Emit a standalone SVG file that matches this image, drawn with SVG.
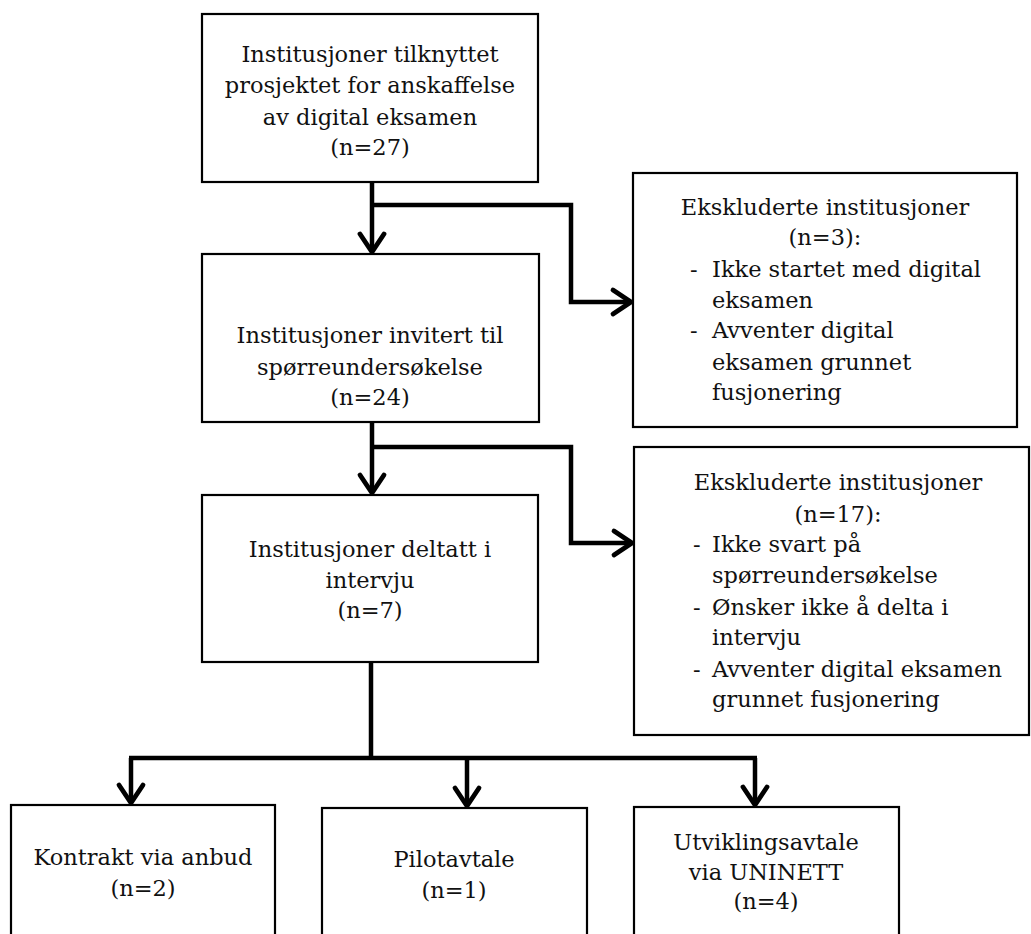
<svg xmlns="http://www.w3.org/2000/svg" width="1031" height="934" viewBox="0 0 1031 934">
  <style>
    .box { fill: #ffffff; stroke: #000000; stroke-width: 2.2; }
    .t { font-family: "DejaVu Serif", "Liberation Serif", serif; font-size: 22.5px; fill: #111111; }
    .c { text-anchor: middle; }
    .wire { fill: none; stroke: #000000; stroke-width: 4.5; stroke-linejoin: miter; }
  </style>
  <defs>
    <!-- open chevron arrowhead, tip at the path end -->
    <marker id="chev" markerUnits="userSpaceOnUse" markerWidth="34" markerHeight="34" viewBox="-24 -17 28 34" refX="0" refY="0" orient="auto">
      <path d="M-18,-12 L0,0 L-18,12" fill="none" stroke="#000000" stroke-width="4.8" stroke-linecap="round" stroke-linejoin="miter"/>
    </marker>
  </defs>

  <rect width="1031" height="934" fill="#ffffff"/>

  <!-- connectors -->
  <g id="connectors">
    <path class="wire" d="M372,182 V252" marker-end="url(#chev)"/>
    <path class="wire" d="M372,205 H571 V302 H631" marker-end="url(#chev)"/>
    <path class="wire" d="M372,422 V493" marker-end="url(#chev)"/>
    <path class="wire" d="M372,447 H571 V543 H632" marker-end="url(#chev)"/>
    <path class="wire" d="M371,662 V758"/>
    <path class="wire" d="M129,758 H757"/>
    <path class="wire" d="M131,758 V803" marker-end="url(#chev)"/>
    <path class="wire" d="M467,758 V806" marker-end="url(#chev)"/>
    <path class="wire" d="M755,758 V805" marker-end="url(#chev)"/>
  </g>

  <g id="node-institusjoner">
    <rect class="box" x="202" y="14" width="336" height="168"/>
    <text class="t c" x="370" y="62">Institusjoner tilknyttet</text>
    <text class="t c" x="370" y="93">prosjektet for anskaffelse</text>
    <text class="t c" x="370" y="125">av digital eksamen</text>
    <text class="t c" x="370" y="155">(n=27)</text>
  </g>

  <g id="node-invitert">
    <rect class="box" x="202" y="254" width="337" height="168"/>
    <text class="t c" x="370" y="343">Institusjoner invitert til</text>
    <text class="t c" x="370" y="375">spørreundersøkelse</text>
    <text class="t c" x="370" y="405">(n=24)</text>
  </g>

  <g id="node-deltatt">
    <rect class="box" x="202" y="495" width="336" height="167"/>
    <text class="t c" x="370" y="557">Institusjoner deltatt i</text>
    <text class="t c" x="370" y="588">intervju</text>
    <text class="t c" x="370" y="618">(n=7)</text>
  </g>

  <g id="node-ekskludert-1">
    <rect class="box" x="633" y="173" width="384" height="254"/>
    <text class="t c" x="825" y="215">Ekskluderte institusjoner</text>
    <text class="t c" x="825" y="245">(n=3):</text>
    <text class="t" x="690" y="277">-</text>
    <text class="t" x="712" y="277">Ikke startet med digital</text>
    <text class="t" x="712" y="308">eksamen</text>
    <text class="t" x="690" y="338">-</text>
    <text class="t" x="712" y="338">Avventer digital</text>
    <text class="t" x="712" y="370">eksamen grunnet</text>
    <text class="t" x="712" y="400">fusjonering</text>
  </g>

  <g id="node-ekskludert-2">
    <rect class="box" x="634" y="447" width="395" height="288"/>
    <text class="t c" x="838" y="490">Ekskluderte institusjoner</text>
    <text class="t c" x="838" y="522">(n=17):</text>
    <text class="t" x="693" y="552">-</text>
    <text class="t" x="712" y="552">Ikke svart på</text>
    <text class="t" x="712" y="583">spørreundersøkelse</text>
    <text class="t" x="693" y="615">-</text>
    <text class="t" x="712" y="615">Ønsker ikke å delta i</text>
    <text class="t" x="712" y="645">intervju</text>
    <text class="t" x="693" y="677">-</text>
    <text class="t" x="712" y="677">Avventer digital eksamen</text>
    <text class="t" x="712" y="707">grunnet fusjonering</text>
  </g>

  <g id="node-anbud">
    <rect class="box" x="11" y="805" width="264" height="150"/>
    <text class="t c" x="143" y="865">Kontrakt via anbud</text>
    <text class="t c" x="143" y="896">(n=2)</text>
  </g>

  <g id="node-pilot">
    <rect class="box" x="322" y="808" width="265" height="150"/>
    <text class="t c" x="454" y="867">Pilotavtale</text>
    <text class="t c" x="454" y="898">(n=1)</text>
  </g>

  <g id="node-uninett">
    <rect class="box" x="634" y="807" width="265" height="150"/>
    <text class="t c" x="766" y="850">Utviklingsavtale</text>
    <text class="t c" x="766" y="880">via UNINETT</text>
    <text class="t c" x="766" y="909">(n=4)</text>
  </g>
</svg>
